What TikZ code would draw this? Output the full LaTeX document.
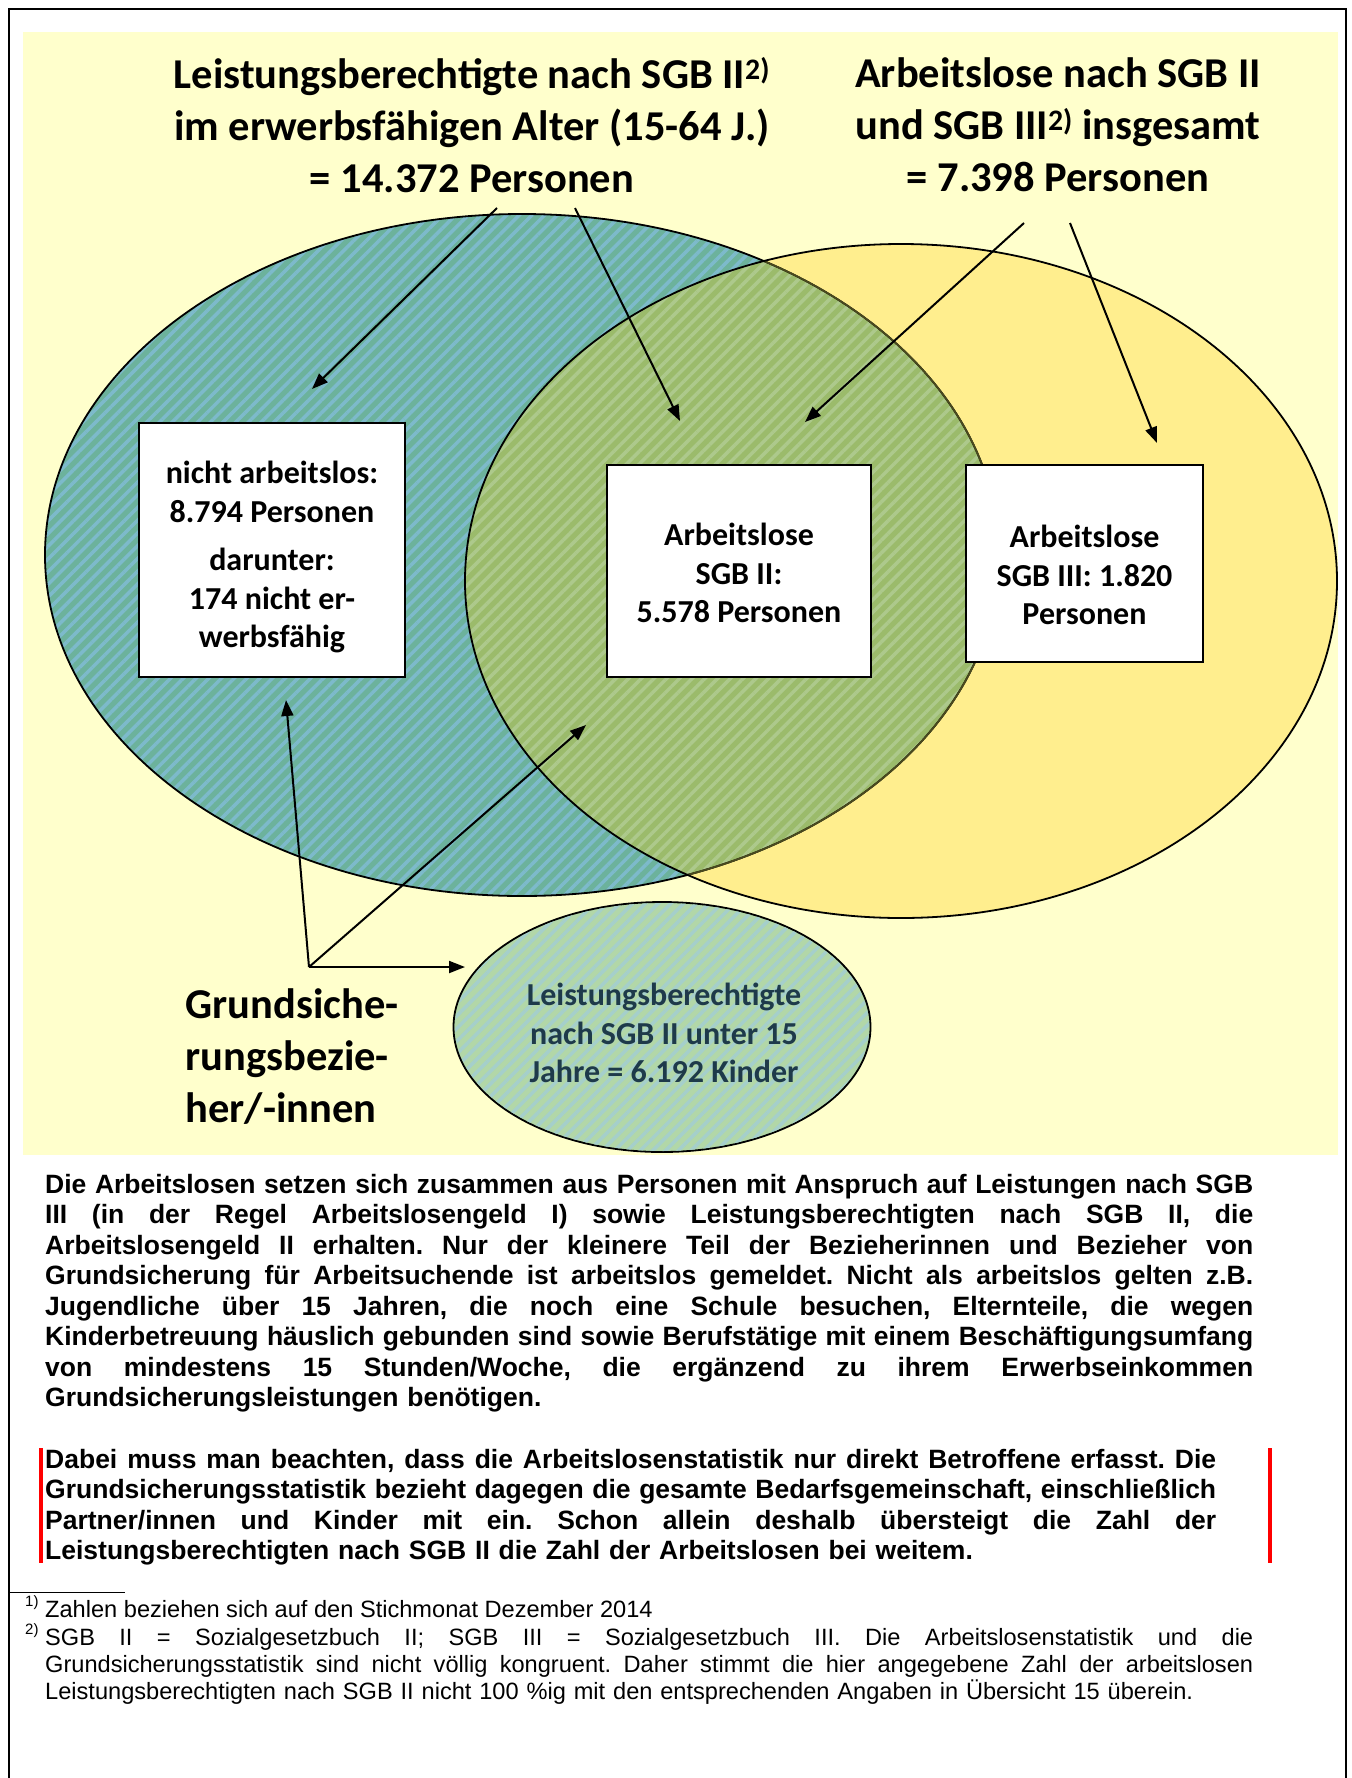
\documentclass[tikz,border=0pt]{standalone}
\usepackage{fontspec}
\setmainfont{Liberation Sans}
\newfontfamily\calfont{Carlito}
\usetikzlibrary{arrows.meta,shapes.geometric,patterns.meta}
\definecolor{bgy}{HTML}{FFFFCC}
\definecolor{gold}{HTML}{FFEE8E}
\definecolor{bluebase}{HTML}{6CB29C}
\definecolor{bluestripe}{HTML}{7DBACB}
\definecolor{olivebase}{HTML}{9BBB6B}
\definecolor{olivestripe}{HTML}{ADC98C}
\definecolor{smallbase}{HTML}{B2D7A8}
\definecolor{smallstripe}{HTML}{A5CFCB}
\definecolor{textdark}{HTML}{1E3A4A}
\definecolor{brownline}{HTML}{4A4A1E}
\newlength\jw
\newcommand\jl[1]{\leavevmode{\spaceskip=.278em plus 1fil minus .06em\xspaceskip=\spaceskip\hbox to\jw{#1}}\\}
\frenchspacing
\begin{document}
\begin{tikzpicture}[x=1pt,y=-1pt,
  arr/.style={line width=2pt,-{Triangle[length=16pt,width=12pt]}},
  titlefont/.style={font=\calfont\bfseries\fontsize{42.5}{52}\selectfont},
  boxfont/.style={font=\calfont\bfseries\fontsize{32}{38.5}\selectfont},
  whitebox/.style={draw,line width=1.6pt,fill=white,inner sep=0pt},
  stripes/.style={pattern={Lines[angle=45,distance=9pt,line width=3.5pt]}}]
\useasboundingbox (0,0) rectangle (1352,1778);
\fill[white] (0,0) rectangle (1352,1778);
\draw[line width=2pt] (9,1778) -- (9,9) -- (1346,9) -- (1346,1778);
\fill[bgy] (23,32) rectangle (1338,1155);
% Venn
\fill[gold] (901,581) ellipse [x radius=436, y radius=337];
\fill[bluebase] (522,555) ellipse [x radius=477, y radius=341];
\fill[stripes,pattern color=bluestripe] (522,555) ellipse [x radius=477, y radius=341];
\begin{scope}
  \clip (901,581) ellipse [x radius=436, y radius=337];
  \fill[olivebase] (522,555) ellipse [x radius=477, y radius=341];
  \fill[stripes,pattern color=olivestripe] (522,555) ellipse [x radius=477, y radius=341];
\end{scope}
\draw[line width=1.8pt] (522,555) ellipse [x radius=477, y radius=341];
\begin{scope}
  \clip (901,581) ellipse [x radius=436, y radius=337];
  \draw[line width=1.8pt,brownline] (522,555) ellipse [x radius=477, y radius=341];
\end{scope}
\draw[line width=1.8pt] (901,581) ellipse [x radius=436, y radius=337];
% small ellipse
\node[ellipse,draw,line width=1.8pt,fill=smallbase,minimum width=417pt,minimum height=250pt,inner sep=0pt] (kids) at (662,1027) {};
\fill[stripes,pattern color=smallstripe] (662,1027) ellipse [x radius=207, y radius=124];
\node[boxfont,text=textdark,align=center] (kidstext) at (664,1033) {Leistungsberechtigte\\nach SGB II unter 15\\Jahre = 6.192 Kinder};
% titles
\node[titlefont,align=center] (t1) at (472,125) {Leistungsberechtigte nach SGB II\textsuperscript{2)}\\im erwerbsfähigen Alter (15-64 J.)\\= 14.372 Personen};
\node[titlefont,align=center] (t2) at (1058,125) {Arbeitslose nach SGB II\\und SGB III\textsuperscript{2)} insgesamt\\= 7.398 Personen};
% boxes
\node[whitebox,minimum width=266pt,minimum height=254pt] (b1) at (272,550) {};
\node[boxfont,align=center] (b1t) at (272,557) {nicht arbeitslos:\\8.794 Personen\\[10pt]darunter:\\174 nicht er-\\werbsfähig};
\node[whitebox,minimum width=264pt,minimum height=212pt] (b2) at (739,571) {};
\node[boxfont,align=center] (b2t) at (739,573) {Arbeitslose\\SGB II:\\5.578 Personen};
\node[whitebox,minimum width=237pt,minimum height=197pt] (b3) at (1084.5,563.5) {};
\node[boxfont,align=center] (b3t) at (1084.5,575) {Arbeitslose\\SGB III: 1.820\\Personen};
% Grundsicherung label
\node[titlefont,align=left,anchor=west] (gs) at (182,1057) {Grundsiche-\\rungsbezie-\\her/-innen};
% arrows
\coordinate (a1s) at (497,208); \coordinate (a1e) at (312,389);
\coordinate (a2s) at (575,208); \coordinate (a2e) at (680,421);
\coordinate (a3s) at (1024,223); \coordinate (a3e) at (805,422);
\coordinate (a4s) at (1070,223); \coordinate (a4e) at (1157,443);
\draw[arr] (a1s) -- (a1e);
\draw[arr] (a2s) -- (a2e);
\draw[arr] (a3s) -- (a3e);
\draw[arr] (a4s) -- (a4e);
\coordinate (j) at (309,967);
\coordinate (g1) at (286,700);
\coordinate (g2) at (586,725);
\coordinate (g3) at (465,967);
\draw[arr] (j) -- (g1);
\draw[arr] (j) -- (g2);
\draw[arr] (j) -- (g3);
% paragraph 1
\node[anchor=north west,inner sep=0pt,text width=1208pt,align=left,font=\bfseries\fontsize{26.5}{30.5}\selectfont] (p1) at (45,1174) {%
\setlength\jw{1208pt}%
\jl{Die Arbeitslosen setzen sich zusammen aus Personen mit Anspruch auf Leistungen nach SGB}
\jl{III (in der Regel Arbeitslosengeld I) sowie Leistungsberechtigten nach SGB II, die}
\jl{Arbeitslosengeld II erhalten. Nur der kleinere Teil der Bezieherinnen und Bezieher von}
\jl{Grundsicherung für Arbeitsuchende ist arbeitslos gemeldet. Nicht als arbeitslos gelten z.B.}
\jl{Jugendliche über 15 Jahren, die noch eine Schule besuchen, Elternteile, die wegen}
\jl{Kinderbetreuung häuslich gebunden sind sowie Berufstätige mit einem Beschäftigungsumfang}
\jl{von mindestens 15 Stunden/Woche, die ergänzend zu ihrem Erwerbseinkommen}
Grundsicherungsleistungen benötigen.};
% paragraph 2
\node[anchor=north west,inner sep=0pt,text width=1171pt,align=left,font=\bfseries\fontsize{26.5}{30.5}\selectfont] (p2) at (45,1449) {%
\setlength\jw{1171pt}%
\jl{Dabei muss man beachten, dass die Arbeitslosenstatistik nur direkt Betroffene erfasst. Die}
\jl{Grundsicherungsstatistik bezieht dagegen die gesamte Bedarfsgemeinschaft, einschließlich}
\jl{Partner/innen und Kinder mit ein. Schon allein deshalb übersteigt die Zahl der}
Leistungsberechtigten nach SGB II die Zahl der Arbeitslosen bei weitem.};
\coordinate (r1a) at (41,1448); \coordinate (r1b) at (41,1563);
\coordinate (r2a) at (1270,1448); \coordinate (r2b) at (1270,1563);
\draw[red,line width=4pt] (r1a) -- (r1b);
\draw[red,line width=4pt] (r2a) -- (r2b);
% footnotes
\coordinate (fr1) at (9,1592); \coordinate (fr2) at (125,1592);
\draw[line width=1pt] (fr1) -- (fr2);
\node[anchor=north west,inner sep=0pt,font=\fontsize{15}{18}\selectfont] (fn1m) at (25,1595) {1)};
\node[anchor=north west,inner sep=0pt,font=\fontsize{23.6}{27}\selectfont] (fn1) at (45,1600) {Zahlen beziehen sich auf den Stichmonat Dezember 2014};
\node[anchor=north west,inner sep=0pt,font=\fontsize{15}{18}\selectfont] (fn2m) at (25,1623) {2)};
\node[anchor=north west,inner sep=0pt,text width=1208pt,align=left,font=\fontsize{23.6}{27}\selectfont] (fn2) at (45,1628) {%
\setlength\jw{1208pt}%
\jl{SGB II = Sozialgesetzbuch II; SGB III = Sozialgesetzbuch III. Die Arbeitslosenstatistik und die}
\jl{Grundsicherungsstatistik sind nicht völlig kongruent. Daher stimmt die hier angegebene Zahl der arbeitslosen}
Leistungsberechtigten nach SGB II nicht 100 \%ig mit den entsprechenden Angaben in Übersicht 15 überein.};
\end{tikzpicture}
\end{document}
